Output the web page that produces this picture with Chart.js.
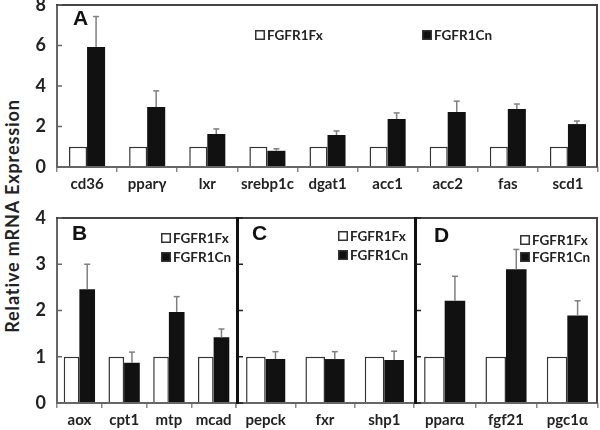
<!DOCTYPE html>
<html>
<head>
<meta charset="utf-8">
<script src="https://cdn.jsdelivr.net/npm/chart.js@4.4.0/dist/chart.umd.min.js"></script>
<style>
body { margin: 0; background: #fff; width: 600px; height: 430px; position: relative; overflow: hidden; }
.box { position: absolute; }
#ytitle { position: absolute; left: 12px; top: 216px; transform: translate(-50%, -50%) rotate(-90deg);
  font: bold 18px Lato, sans-serif; letter-spacing: 0.9px; white-space: nowrap; color: #222; }
</style>
</head>
<body>
<div id="ytitle">Relative mRNA Expression</div>
<div class="box" style="left:0;top:0;width:600px;height:200px"><canvas id="cA"></canvas></div>
<div class="box" style="left:0;top:200px;width:237px;height:230px"><canvas id="cB"></canvas></div>
<div class="box" style="left:236px;top:200px;width:178px;height:230px"><canvas id="cC"></canvas></div>
<div class="box" style="left:414px;top:200px;width:186px;height:230px"><canvas id="cD"></canvas></div>
<script>
const seriesNames = ['FGFR1Fx', 'FGFR1Cn'];

const catsA = ['cd36', 'pparγ', 'lxr', 'srebp1c', 'dgat1', 'acc1', 'acc2', 'fas', 'scd1'];
const fxA = [1, 1, 1, 1, 1, 1, 1, 1, 1];
const cnA = [5.93, 2.96, 1.63, 0.8, 1.58, 2.37, 2.72, 2.86, 2.12];
const sdA = [1.5, 0.8, 0.25, 0.1, 0.2, 0.3, 0.53, 0.25, 0.15];

const catsB = ['aox', 'cpt1', 'mtp', 'mcad'];
const fxB = [1, 1, 1, 1];
const cnB = [2.46, 0.87, 1.97, 1.42];
const sdB = [0.54, 0.23, 0.33, 0.18];

const catsC = ['pepck', 'fxr', 'shp1'];
const fxC = [1, 1, 1];
const cnC = [0.95, 0.95, 0.93];
const sdC = [0.16, 0.16, 0.19];

const catsD = ['pparα', 'fgf21', 'pgc1α'];
const fxD = [1, 1, 1];
const cnD = [2.21, 2.89, 1.89];
const sdD = [0.53, 0.43, 0.32];

const ticksTop = [0, 2, 4, 6, 8];
const ticksBottom = [0, 1, 2, 3, 4];

// error bars, frame, panel letter and legend
const deco = {
  id: 'deco',
  afterDraw(chart, args, o) {
    const ctx = chart.ctx, a = chart.chartArea, y = chart.scales.y;
    const L = Math.round(a.left), R = Math.round(a.right), T = Math.round(a.top), B = Math.round(a.bottom);
    ctx.save();
    // error whiskers (upper only)
    const meta = chart.getDatasetMeta(1);
    ctx.fillStyle = '#808080';
    meta.data.forEach((bar, i) => {
      const v = chart.data.datasets[1].data[i];
      const yt = y.getPixelForValue(v + o.sd[i]);
      ctx.fillRect(bar.x - 0.75, yt, 1.5, bar.y - yt);
      ctx.fillRect(bar.x - 3, yt - 0.75, 6, 1.5);
    });
    // axes
    ctx.fillStyle = '#666';
    ctx.fillRect(L - 1, B - 1, R - L + 1, 2);
    if (!o.thickLeft) ctx.fillRect(L - 1, T - 1, 2, B - T + 1);
    // top and right border
    ctx.fillStyle = '#444';
    ctx.fillRect(L - 1, T - 1, R - L + 1, 2);
    if (o.right) ctx.fillRect(R - 2, T - 1, 2, B - T + 1);
    let lx = L + 1;
    if (o.thickLeft) {
      ctx.fillStyle = '#111';
      ctx.fillRect(L, T - 1, 3, B - T + 2);
      lx = L + 3;
    }
    // inner y tick marks
    ctx.fillStyle = o.thickLeft ? '#222' : '#666';
    y.ticks.forEach(t => {
      const py = y.getPixelForValue(t.value);
      ctx.fillRect(lx, py - 0.75, 4, 1.5);
    });
    // panel letter
    ctx.fillStyle = '#111';
    ctx.font = 'bold 21px "Liberation Sans", Arial, sans-serif';
    ctx.textBaseline = 'middle';
    ctx.textAlign = 'left';
    ctx.fillText(o.letter, L + o.lx, T + o.ly);
    // legend
    ctx.font = 'bold 13.5px Lato, sans-serif';
    o.legend.forEach((p, i) => {
      const bx = L + p[0], by = T + p[1];
      ctx.fillStyle = '#333';
      ctx.fillRect(bx, by - 5, 10, 10);
      ctx.fillStyle = i === 0 ? '#fff' : '#111';
      ctx.fillRect(bx + 1.5, by - 3.5, 7, 7);
      ctx.fillStyle = '#222';
      ctx.fillText(seriesNames[i], bx + 12, by + 1);
    });
    ctx.restore();
  }
};

function makeChart(id, cats, fx, cn, opt) {
  return new Chart(document.getElementById(id), {
    type: 'bar',
    data: {
      labels: cats,
      datasets: [
        { label: seriesNames[0], data: fx, backgroundColor: '#fff', borderColor: '#333', borderWidth: 1.5,
          categoryPercentage: opt.cat, barPercentage: 1 },
        { label: seriesNames[1], data: cn, backgroundColor: '#111', borderColor: '#111', borderWidth: 0,
          categoryPercentage: opt.cat, barPercentage: 1 }
      ]
    },
    options: {
      responsive: true,
      maintainAspectRatio: false,
      animation: false,
      layout: { padding: opt.pad },
      plugins: {
        legend: { display: false },
        tooltip: { enabled: false },
        deco: opt.deco
      },
      scales: {
        x: {
          grid: { drawOnChartArea: false, drawTicks: true, tickLength: 5, color: '#888', lineWidth: 1.5, offset: true },
          border: { display: false },
          ticks: { color: '#222', padding: 3, maxRotation: 0, autoSkip: false,
            font: { family: 'Lato', weight: 'bold', size: 15 } },
          afterFit: s => { s.height = opt.xh; s.paddingLeft = 0; s.paddingRight = 0; }
        },
        y: {
          display: opt.yShow,
          min: 0,
          max: opt.ticks[opt.ticks.length - 1],
          grid: { drawOnChartArea: false, drawTicks: false },
          border: { display: false },
          ticks: {
            stepSize: 1, padding: 11, color: '#222',
            font: { family: 'Lato', weight: 'bold', size: 18 },
            callback: v => opt.ticks.includes(v) ? v : ''
          },
          afterFit: s => { s.width = opt.yShow ? 57 : 0; s.paddingTop = 0; s.paddingBottom = 0; }
        }
      }
    },
    plugins: [deco]
  });
}

makeChart('cA', catsA, fxA, cnA, {
  cat: 0.6, pad: { left: 0, right: 2, top: 5, bottom: 0 }, xh: 33, yShow: true, ticks: ticksTop,
  deco: { sd: sdA, right: true, letter: 'A', lx: 16, ly: 14, legend: [[198, 30], [365, 30]] }
});
makeChart('cB', catsB, fxB, cnB, {
  cat: 0.7, pad: { left: 0, right: 1, top: 18, bottom: 0 }, xh: 27, yShow: true, ticks: ticksBottom,
  deco: { sd: sdB, right: false, letter: 'B', lx: 15, ly: 16, legend: [[104, 20], [104, 39]] }
});
makeChart('cC', catsC, fxC, cnC, {
  cat: 0.66, pad: { left: 0, right: 0, top: 18, bottom: 0 }, xh: 27, yShow: false, ticks: ticksBottom,
  deco: { sd: sdC, right: false, thickLeft: true, letter: 'C', lx: 16, ly: 16, legend: [[102, 18], [102, 37]] }
});
makeChart('cD', catsD, fxD, cnD, {
  cat: 0.67, pad: { left: 0, right: 2, top: 18, bottom: 0 }, xh: 27, yShow: false, ticks: ticksBottom,
  deco: { sd: sdD, right: true, thickLeft: true, letter: 'D', lx: 20, ly: 18, legend: [[106, 22], [106, 39]] }
});
</script>
</body>
</html>
